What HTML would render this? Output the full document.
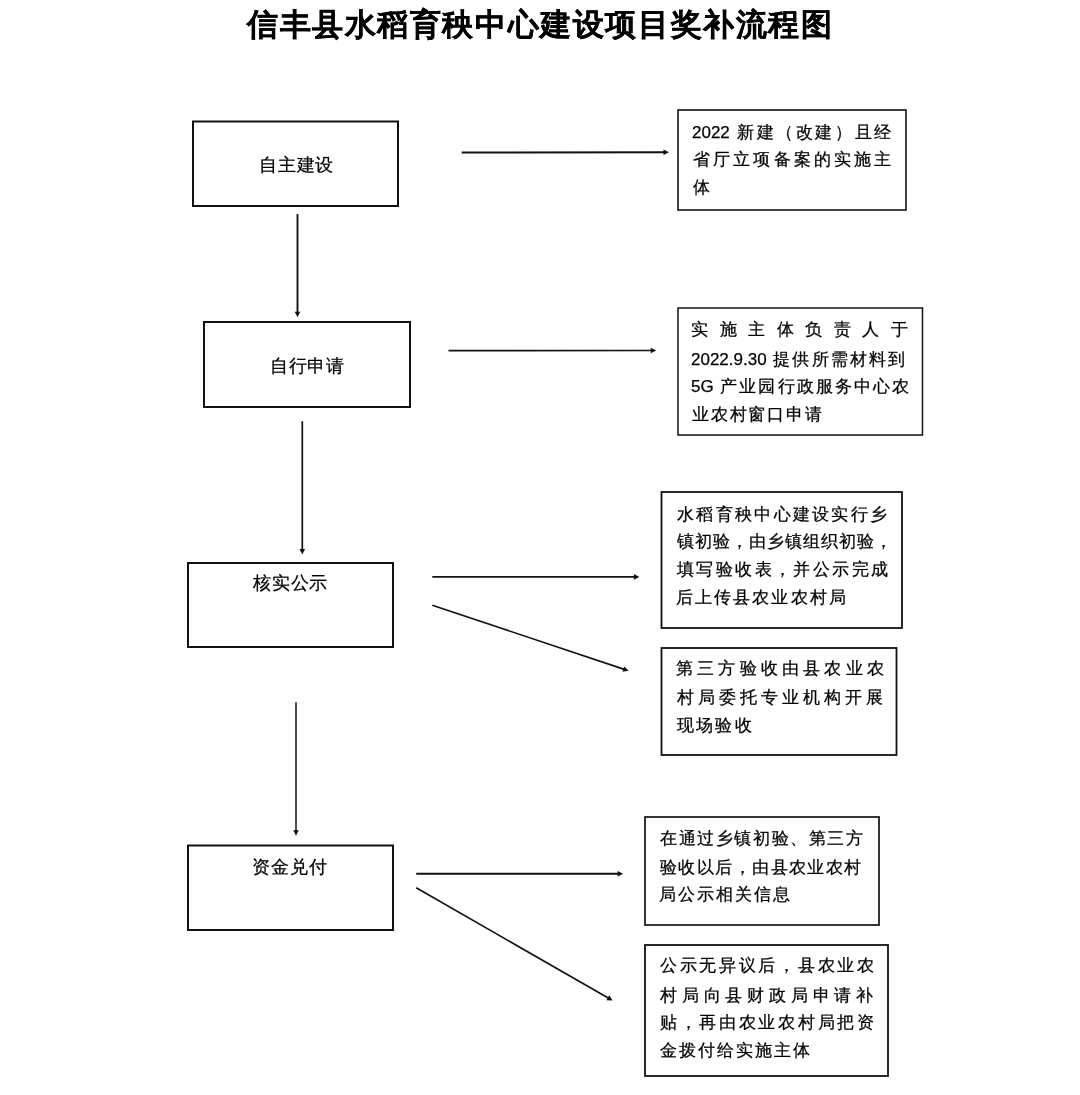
<!DOCTYPE html>
<html><head><meta charset="utf-8"><style>
html,body{margin:0;padding:0;background:#fff;}
body{width:1080px;height:1095px;position:relative;overflow:hidden;font-family:"Liberation Sans",sans-serif;color:#000;}
svg{position:absolute;left:0;top:0;}
.t{position:absolute;white-space:nowrap;will-change:transform;-webkit-text-stroke:0.25px #000;}
.j{text-align:justify;text-align-last:justify;}
.b{font-weight:bold;color:#000;}
.n{font-size:17px;}
</style></head><body>
<svg width="1080" height="1095" viewBox="0 0 1080 1095"><rect x="193" y="121.5" width="205" height="84.5" fill="none" stroke="#111" stroke-width="2.0"/><rect x="204" y="322" width="206" height="85" fill="none" stroke="#111" stroke-width="2.0"/><rect x="188" y="563" width="205" height="84" fill="none" stroke="#111" stroke-width="2.0"/><rect x="188" y="845.5" width="205" height="84.5" fill="none" stroke="#111" stroke-width="2.0"/><rect x="678" y="110" width="228" height="100" fill="none" stroke="#111" stroke-width="1.6"/><rect x="678" y="308" width="244.5" height="127" fill="none" stroke="#111" stroke-width="1.5"/><rect x="661.5" y="492" width="240.5" height="136" fill="none" stroke="#111" stroke-width="1.8"/><rect x="661.5" y="648" width="235.0" height="107" fill="none" stroke="#111" stroke-width="1.8"/><rect x="645" y="817" width="234" height="108" fill="none" stroke="#111" stroke-width="1.7"/><rect x="645" y="945" width="243" height="131" fill="none" stroke="#111" stroke-width="1.8"/><line x1="461.7" y1="152.5" x2="664.50" y2="152.30" stroke="#111" stroke-width="1.9"/><polygon points="669.00,152.30 663.50,155.11 663.50,149.51" fill="#111"/><line x1="448.5" y1="350.7" x2="651.70" y2="350.50" stroke="#111" stroke-width="1.7"/><polygon points="656.20,350.50 650.70,353.31 650.70,347.71" fill="#111"/><line x1="432.3" y1="576.9" x2="634.90" y2="576.90" stroke="#111" stroke-width="1.8"/><polygon points="639.40,576.90 633.90,579.70 633.90,574.10" fill="#111"/><line x1="432.3" y1="605.2" x2="624.33" y2="669.37" stroke="#111" stroke-width="1.6"/><polygon points="628.60,670.80 622.50,671.71 624.27,666.40" fill="#111"/><line x1="416.2" y1="873.8" x2="618.60" y2="873.80" stroke="#111" stroke-width="1.9"/><polygon points="623.10,873.80 617.60,876.60 617.60,871.00" fill="#111"/><line x1="416.2" y1="887.8" x2="608.70" y2="998.26" stroke="#111" stroke-width="1.6"/><polygon points="612.60,1000.50 606.44,1000.19 609.22,995.33" fill="#111"/><line x1="297.5" y1="214.1" x2="297.50" y2="312.70" stroke="#111" stroke-width="1.9"/><polygon points="297.50,317.20 294.70,311.70 300.30,311.70" fill="#111"/><line x1="302.3" y1="421.1" x2="302.30" y2="549.90" stroke="#111" stroke-width="1.7"/><polygon points="302.30,554.40 299.50,548.90 305.10,548.90" fill="#111"/><line x1="296" y1="702.3" x2="296.00" y2="831.20" stroke="#111" stroke-width="1.5"/><polygon points="296.00,835.70 293.20,830.20 298.80,830.20" fill="#111"/></svg>
<div class="t b" style="left:246.60px;top:8.70px;font-size:30.5px;line-height:30.5px;letter-spacing:1.582px;">信丰县水稻育秧中心建设项目奖补流程图</div>
<div class="t" style="left:258.90px;top:156.00px;font-size:18px;line-height:18px;letter-spacing:0.800px;">自主建设</div>
<div class="t" style="left:269.90px;top:357.00px;font-size:18px;line-height:18px;letter-spacing:0.500px;">自行申请</div>
<div class="t" style="left:252.80px;top:574.00px;font-size:18px;line-height:18px;letter-spacing:0.800px;">核实公示</div>
<div class="t" style="left:251.90px;top:857.90px;font-size:18px;line-height:18px;letter-spacing:1.100px;">资金兑付</div>
<div class="t j" style="left:692.00px;top:123.55px;font-size:16.5px;line-height:16.5px;width:199.10px;"><span class="n">2022</span> 新建（改建）且经</div>
<div class="t j" style="left:692.90px;top:151.45px;font-size:16.5px;line-height:16.5px;width:198.20px;">省厅立项备案的实施主</div>
<div class="t" style="left:692.90px;top:179.45px;font-size:16.5px;line-height:16.5px;letter-spacing:19.300px;">体</div>
<div class="t j" style="left:691.10px;top:321.10px;font-size:16.5px;line-height:16.5px;width:217.00px;">实施主体负责人于</div>
<div class="t j" style="left:691.10px;top:351.10px;font-size:16.5px;line-height:16.5px;width:214.00px;"><span class="n">2022.9.30</span> 提供所需材料到</div>
<div class="t j" style="left:691.10px;top:378.20px;font-size:16.5px;line-height:16.5px;width:217.90px;"><span class="n">5G</span> 产业园行政服务中心农</div>
<div class="t" style="left:692.00px;top:406.00px;font-size:16.5px;line-height:16.5px;letter-spacing:1.750px;">业农村窗口申请</div>
<div class="t j" style="left:676.90px;top:505.55px;font-size:16.5px;line-height:16.5px;width:210.10px;">水稻育秧中心建设实行乡</div>
<div class="t j" style="left:676.90px;top:533.00px;font-size:16.5px;line-height:16.5px;width:214.60px;">镇初验，由乡镇组织初验，</div>
<div class="t j" style="left:676.90px;top:561.45px;font-size:16.5px;line-height:16.5px;width:211.00px;">填写验收表，并公示完成</div>
<div class="t" style="left:676.00px;top:589.10px;font-size:16.5px;line-height:16.5px;letter-spacing:2.087px;">后上传县农业农村局</div>
<div class="t j" style="left:676.00px;top:660.10px;font-size:16.5px;line-height:16.5px;width:207.90px;">第三方验收由县农业农</div>
<div class="t j" style="left:676.90px;top:689.00px;font-size:16.5px;line-height:16.5px;width:206.10px;">村局委托专业机构开展</div>
<div class="t" style="left:676.90px;top:716.55px;font-size:16.5px;line-height:16.5px;letter-spacing:2.200px;">现场验收</div>
<div class="t j" style="left:660.00px;top:830.10px;font-size:16.5px;line-height:16.5px;width:203.00px;">在通过乡镇初验、第三方</div>
<div class="t j" style="left:660.00px;top:859.00px;font-size:16.5px;line-height:16.5px;width:201.20px;">验收以后，由县农业农村</div>
<div class="t" style="left:659.10px;top:886.10px;font-size:16.5px;line-height:16.5px;letter-spacing:2.050px;">局公示相关信息</div>
<div class="t j" style="left:660.00px;top:957.10px;font-size:16.5px;line-height:16.5px;width:214.00px;">公示无异议后，县农业农</div>
<div class="t j" style="left:660.00px;top:986.65px;font-size:16.5px;line-height:16.5px;width:213.10px;">村局向县财政局申请补</div>
<div class="t j" style="left:660.00px;top:1014.10px;font-size:16.5px;line-height:16.5px;width:214.00px;">贴，再由农业农村局把资</div>
<div class="t" style="left:660.00px;top:1041.55px;font-size:16.5px;line-height:16.5px;letter-spacing:2.071px;">金拨付给实施主体</div>
</body></html>
